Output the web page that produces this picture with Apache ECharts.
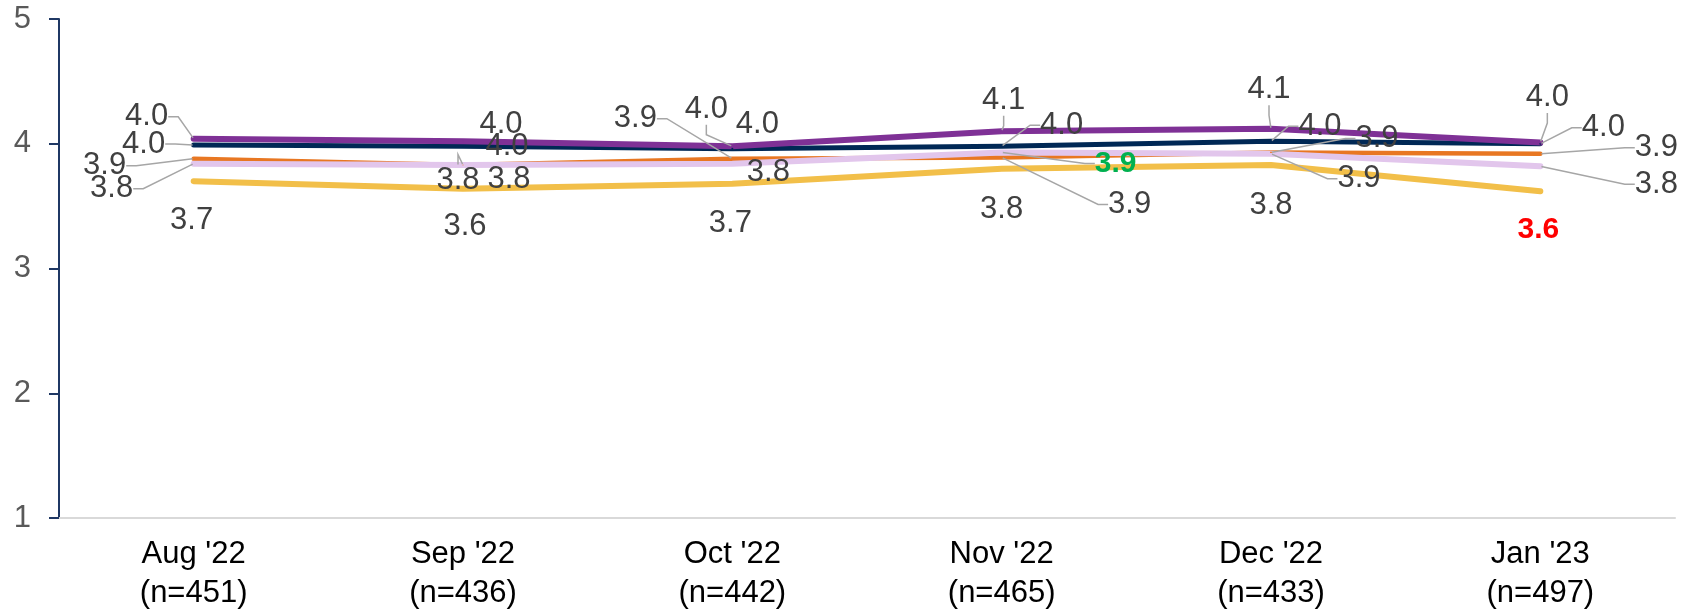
<!DOCTYPE html>
<html lang="en">
<head>
    <meta charset="UTF-8">
    <title>Score trend</title>
    <script type="text/javascript" src="https://cdn.jsdelivr.net/npm/echarts@6/dist/echarts.min.js"></script>
    <style>
        html, body { margin: 0; padding: 0; background: #fff; }
    </style>
</head>
<body>
<div id="trend" style="width: 1687px;height: 613px"></div>
<script type="text/javascript">
    // months and sample sizes
    var months = ["Aug '22", "Sep '22", "Oct '22", "Nov '22", "Dec '22", "Jan '23"];
    var sampleSizes = [451, 436, 442, 465, 433, 497];

    // series values
    var purpleVals = [4.04, 4.02, 3.98, 4.10, 4.12, 4.01];
    var navyVals   = [3.99, 3.98, 3.96, 3.98, 4.02, 4.00];
    var orangeVals = [3.88, 3.83, 3.88, 3.89, 3.93, 3.92];
    var pinkVals   = [3.84, 3.83, 3.84, 3.93, 3.92, 3.82];
    var yellowVals = [3.70, 3.64, 3.68, 3.80, 3.83, 3.62];

    // significant changes: 'up' green, 'down' red
    var pinkSig   = ['', '', '', 'up', '', ''];
    var yellowSig = ['', '', '', '', '', 'down'];

    var yTicks = [1, 2, 3, 4, 5];

    // label placement [dx, dy, leader line]
    var labelPos = [
        [[-47, -22, 1], [38, -17, 0], [-26, -37, 1], [2, -31, 1], [-2, -39, 1], [7, -45, 1]],
        [[-50, -1, 1], [44, 0, 0], [25, -24, 0], [60, -21, 1], [49, -15, 1], [63, -16, 1]],
        [[-89, 7, 1], [-5, 15, 1], [-97, -40, 1], [128, 47, 1], [106, -14, 1], [116, -6, 1]],
        [[-82, 25, 1], [46, 14, 0], [36, 9, 0], [114, 11, 1], [88, 25, 1], [116, 18, 1]],
        [[-2, 39, 0], [2, 38, 0], [-2, 40, 0], [0, 41, 0], [0, 40, 0], [-2, 39, 0]]
    ];

    var lineDefs = [
        {name: 'A', color: '#7F3196', width: 6, vals: purpleVals, sig: null},
        {name: 'B', color: '#002855', width: 5, vals: navyVals, sig: null},
        {name: 'C', color: '#E87722', width: 4.5, vals: orangeVals, sig: null},
        {name: 'D', color: '#E2C6EC', width: 6, vals: pinkVals, sig: pinkSig},
        {name: 'E', color: '#F2BF49', width: 6, vals: yellowVals, sig: yellowSig}
    ];

    var fontFam = '"Liberation Sans", Arial, sans-serif';

    // draw order: yellow, orange, pink, navy, purple on top
    var drawOrder = [4, 2, 3, 1, 0];
    var series = [];
    var orderIdx = [];
    drawOrder.forEach(function (k) {
        var d = lineDefs[k];
        orderIdx.push(k);
        series.push({
            name: d.name,
            type: 'line',
            data: d.vals.map(function (v, i) {
                var item = {value: v, labelLine: {show: !!labelPos[k][i][2]}};
                if (d.sig && d.sig[i] === 'up') {
                    item.label = {color: '#00B050', fontWeight: 'bold', fontSize: 30};
                } else if (d.sig && d.sig[i] === 'down') {
                    item.label = {color: '#FF0000', fontWeight: 'bold', fontSize: 30};
                }
                return item;
            }),
            symbol: 'circle',
            symbolSize: 2,
            itemStyle: {color: d.color},
            lineStyle: {color: d.color, width: d.width, cap: 'round', join: 'round'},
            silent: true,
            emphasis: {disabled: true},
            label: {
                show: true,
                position: 'inside',
                align: 'center',
                verticalAlign: 'middle',
                color: '#404040',
                fontSize: 31,
                fontFamily: fontFam,
                formatter: function (p) { return p.value.toFixed(1); }
            },
            labelLine: {
                show: true,
                length2: 10,
                lineStyle: {color: '#A6A6A6', width: 1.5}
            },
            labelLayout: function (params) {
                var k2 = orderIdx[params.seriesIndex];
                var pos = labelPos[k2][params.dataIndex];
                return {dx: pos[0], dy: pos[1]};
            }
        });
    });

    var chart = echarts.init(document.getElementById('trend'));
    var option = {
        animation: false,
        grid: {left: 59, right: 12, top: 19, bottom: 93},
        xAxis: {
            type: 'category',
            data: months.map(function (m, i) { return m + '\n(n=' + sampleSizes[i] + ')'; }),
            boundaryGap: true,
            axisLine: {lineStyle: {color: '#D9D9D9', width: 2}},
            axisTick: {show: false},
            axisLabel: {
                color: '#000',
                fontSize: 31,
                lineHeight: 39,
                margin: 17,
                fontFamily: fontFam
            }
        },
        yAxis: {
            type: 'value',
            min: yTicks[0],
            max: yTicks[yTicks.length - 1],
            interval: 1,
            axisLine: {show: true, lineStyle: {color: '#1F3864', width: 2}},
            axisTick: {show: true, length: 10, lineStyle: {color: '#1F3864', width: 2}},
            splitLine: {show: false},
            axisLabel: {
                color: '#595959',
                fontSize: 31,
                margin: 28,
                fontFamily: fontFam
            }
        },
        series: series
    };
    option && chart.setOption(option);
</script>
</body>
</html>
